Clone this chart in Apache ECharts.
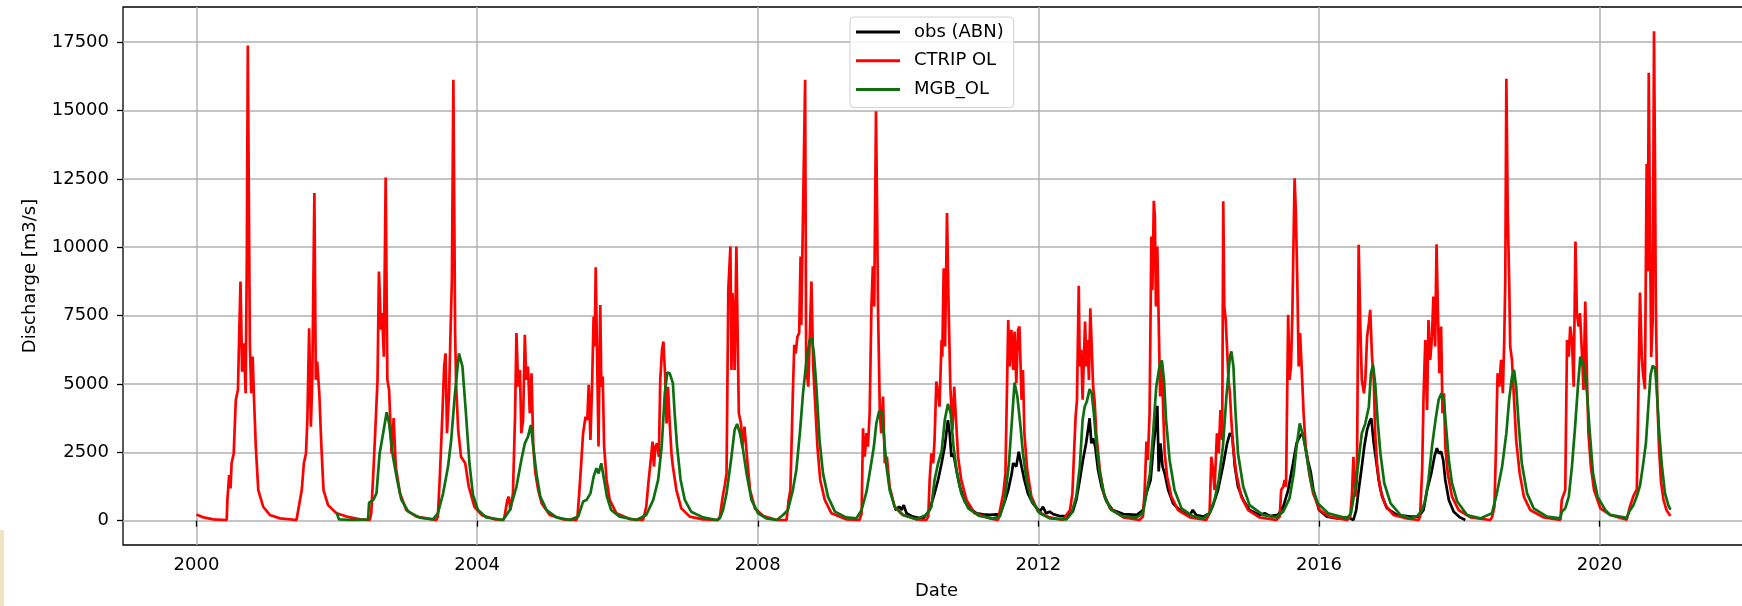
<!DOCTYPE html>
<html>
<head>
<meta charset="utf-8">
<title>Discharge</title>
<script src="https://cdn.jsdelivr.net/npm/echarts@6/dist/echarts.min.js"></script>
<style>
  html, body { margin: 0; padding: 0; background: #fff; }
  #chart { width: 1742px; height: 606px; }
</style>
</head>
<body>
<div id="chart"></div>
<script>
// tick values of both axes
const xTicks = [2000, 2004, 2008, 2012, 2016, 2020];
const yTicks = [0, 2500, 5000, 7500, 10000, 12500, 15000, 17500];

// [decimal year, discharge m3/s]
const obsABN = [
  [2009.95,390],[2010.02,510],[2010.05,390],[2010.08,570],[2010.12,270],[2010.21,150],[2010.355,70],
  [2010.45,390],[2010.52,1000],[2010.57,1490],[2010.62,2100],[2010.665,2710],[2010.71,3680],[2010.735,3200],
  [2010.76,2340],[2010.79,2460],[2010.83,1860],[2010.88,1240],[2010.95,700],[2011.02,450],[2011.12,270],
  [2011.21,230],[2011.31,210],[2011.40,230],
  [2011.45,210],[2011.52,700],[2011.57,1120],[2011.62,1730],[2011.64,2100],[2011.685,1980],[2011.72,2525],
  [2011.76,1980],[2011.80,1490],[2011.85,1000],[2011.92,630],[2012.02,330],[2012.065,510],[2012.11,270],
  [2012.16,330],[2012.21,240],[2012.30,170],[2012.40,170],
  [2012.49,330],[2012.54,760],[2012.59,1490],[2012.635,2220],[2012.68,2830],[2012.71,3380],[2012.73,3745],
  [2012.755,2830],[2012.78,3010],[2012.81,2710],[2012.85,1860],[2012.90,1240],[2012.97,700],[2013.06,390],
  [2013.21,240],[2013.40,210],
  [2013.49,390],[2013.54,1000],[2013.60,1490],[2013.64,2710],[2013.67,3440],[2013.695,4200],[2013.715,1800],
  [2013.74,2830],[2013.77,1980],[2013.80,1730],[2013.85,1120],[2013.92,630],[2014.04,330],[2014.16,210],
  [2014.20,390],[2014.25,210],[2014.35,150],
  [2014.44,270],[2014.49,570],[2014.56,1120],[2014.63,1980],[2014.69,2830],[2014.73,3200],[2014.765,3075],
  [2014.80,1980],[2014.845,1240],[2014.92,760],[2015.01,390],[2015.15,210],[2015.225,270],[2015.30,170],
  [2015.415,210],
  [2015.49,510],[2015.56,1120],[2015.63,2100],[2015.68,2830],[2015.725,3075],[2015.77,3220],[2015.795,2830],
  [2015.84,2220],[2015.88,1800],[2015.92,1120],[2016.00,390],[2016.11,150],[2016.26,85],[2016.42,120],
  [2016.49,25],
  [2016.53,390],[2016.565,1120],[2016.61,1980],[2016.645,2710],[2016.685,3320],[2016.72,3620],[2016.745,3745],
  [2016.78,2830],[2016.82,2100],[2016.85,1490],[2016.90,880],[2016.97,450],[2017.11,210],[2017.30,150],
  [2017.42,150],
  [2017.49,390],[2017.54,1120],[2017.60,1730],[2017.645,2340],[2017.68,2650],[2017.71,2460],[2017.74,2525],
  [2017.77,2220],[2017.80,1490],[2017.85,760],[2017.92,330],[2018.01,120],[2018.085,25]
];

const ctripOL = [
  [2000.00,230],[2000.10,120],[2000.24,50],[2000.43,25],
  [2000.44,760],[2000.465,1670],[2000.485,1180],[2000.50,2100],[2000.53,2460],[2000.56,4420],[2000.59,4780],
  [2000.61,6980],[2000.627,8750],[2000.65,5450],[2000.675,6490],[2000.70,4660],[2000.717,9600],[2000.731,17380],
  [2000.76,6490],[2000.78,4660],[2000.80,6000],[2000.82,4420],[2000.845,2710],[2000.88,1120],[2000.95,510],
  [2001.045,210],[2001.19,85],[2001.425,25],
  [2001.45,25],[2001.50,1120],[2001.53,2100],[2001.56,2460],[2001.58,3680],[2001.605,7040],[2001.63,3440],
  [2001.65,5150],[2001.68,11980],[2001.70,5150],[2001.72,5820],[2001.75,4660],[2001.78,2710],[2001.81,1120],
  [2001.875,570],[2001.995,270],[2002.14,150],[2002.33,50],[2002.47,25],
  [2002.49,270],[2002.52,1730],[2002.555,3680],[2002.58,5150],[2002.60,9110],[2002.63,6980],[2002.645,7590],
  [2002.67,6000],[2002.696,12550],[2002.72,5150],[2002.745,4780],[2002.78,2460],[2002.81,3750],[2002.84,1980],
  [2002.90,1000],[2002.99,390],[2003.135,150],[2003.42,25],
  [2003.44,150],[2003.47,1730],[2003.505,3930],[2003.53,5640],[2003.55,6120],[2003.57,3200],[2003.60,4660],
  [2003.62,6860],[2003.64,8810],[2003.661,16125],[2003.686,6860],[2003.70,5000],[2003.73,3300],[2003.77,2340],
  [2003.83,2100],[2003.88,1250],[2003.96,510],[2004.07,200],[2004.25,50],[2004.37,25],
  [2004.39,150],[2004.43,760],[2004.45,880],[2004.475,390],[2004.51,1000],[2004.54,3800],[2004.56,6860],
  [2004.585,4900],[2004.61,5510],[2004.63,3200],[2004.655,3680],[2004.68,6800],[2004.70,5150],[2004.725,5640],
  [2004.75,3930],[2004.775,5390],[2004.80,2710],[2004.83,1730],[2004.87,1120],[2004.92,630],[2005.035,210],
  [2005.225,50],[2005.415,25],
  [2005.43,150],[2005.455,1000],[2005.48,1980],[2005.51,3200],[2005.545,3800],[2005.57,3680],[2005.59,4970],
  [2005.615,2950],[2005.64,5150],[2005.66,7470],[2005.675,6370],[2005.69,9270],[2005.715,5150],[2005.73,2710],
  [2005.755,7890],[2005.77,4900],[2005.79,5270],[2005.81,2710],[2005.845,1490],[2005.89,760],[2005.985,270],
  [2006.175,60],[2006.365,25],
  [2006.41,510],[2006.445,1490],[2006.475,2220],[2006.50,2890],[2006.52,1980],[2006.54,2710],[2006.565,2830],
  [2006.59,2340],[2006.61,5150],[2006.635,6250],[2006.655,6550],[2006.68,5270],[2006.70,3560],[2006.72,4900],
  [2006.745,3560],[2006.77,2460],[2006.79,1980],[2006.84,1120],[2006.91,450],[2007.03,150],[2007.22,50],
  [2007.43,25],
  [2007.46,150],[2007.50,880],[2007.53,1300],[2007.555,1730],[2007.58,8440],[2007.61,10030],[2007.625,5510],
  [2007.64,8320],[2007.655,7340],[2007.67,5510],[2007.695,10030],[2007.71,7340],[2007.73,3930],[2007.76,3560],
  [2007.78,2710],[2007.81,3440],[2007.85,2220],[2007.89,1120],[2007.96,450],[2008.08,170],[2008.27,25],
  [2008.41,25],
  [2008.44,760],[2008.465,1120],[2008.50,4660],[2008.52,6430],[2008.54,6120],[2008.565,6730],[2008.59,6860],
  [2008.61,9660],[2008.62,7160],[2008.645,11300],[2008.675,16125],[2008.69,5640],[2008.72,4900],[2008.74,6610],
  [2008.765,8750],[2008.79,5640],[2008.81,4660],[2008.85,2710],[2008.89,1490],[2008.955,760],[2009.05,270],
  [2009.26,50],[2009.45,25],
  [2009.48,270],[2009.50,3380],[2009.525,2340],[2009.55,3200],[2009.57,2710],[2009.595,3930],[2009.62,7830],
  [2009.64,9300],[2009.66,7830],[2009.685,14970],[2009.70,11490],[2009.715,7590],[2009.74,3930],[2009.76,3200],
  [2009.785,4540],[2009.81,2100],[2009.84,2340],[2009.88,1240],[2009.95,510],[2010.07,210],[2010.26,50],
  [2010.40,25],
  [2010.43,150],[2010.45,1490],[2010.475,2460],[2010.50,2100],[2010.52,2950],[2010.545,5090],[2010.57,4660],
  [2010.59,4170],[2010.62,6610],[2010.63,6000],[2010.65,9230],[2010.67,6370],[2010.697,11250],[2010.72,7830],
  [2010.745,4900],[2010.775,3320],[2010.80,4900],[2010.82,3930],[2010.855,2340],[2010.90,1490],[2010.975,760],
  [2011.09,270],[2011.31,85],[2011.425,25],
  [2011.45,85],[2011.50,1000],[2011.53,1730],[2011.57,7340],[2011.59,5640],[2011.615,6980],[2011.64,5510],
  [2011.66,6920],[2011.685,5030],[2011.71,6980],[2011.73,7100],[2011.76,4420],[2011.78,5510],[2011.80,3200],
  [2011.84,1860],[2011.90,880],[2011.995,330],[2012.16,120],[2012.35,25],
  [2012.45,390],[2012.485,1000],[2012.50,1980],[2012.53,3800],[2012.55,4420],[2012.575,8590],[2012.59,5640],
  [2012.61,6250],[2012.63,4420],[2012.645,5640],[2012.665,7280],[2012.685,5640],[2012.70,6610],[2012.72,5150],
  [2012.74,7770],[2012.76,6370],[2012.78,4900],[2012.80,4420],[2012.825,3200],[2012.875,1860],[2012.93,1000],
  [2013.02,450],[2013.21,120],[2013.44,25],
  [2013.49,150],[2013.515,1120],[2013.54,2890],[2013.56,2220],[2013.585,3930],[2013.61,10390],[2013.625,8440],
  [2013.645,11700],[2013.66,11130],[2013.675,7830],[2013.695,10030],[2013.715,7220],[2013.735,4540],
  [2013.76,5760],[2013.78,3930],[2013.80,2460],[2013.835,1610],[2013.895,880],[2013.99,390],[2014.16,120],
  [2014.39,25],
  [2014.44,270],[2014.465,2340],[2014.49,1860],[2014.51,1120],[2014.545,3200],[2014.57,2460],[2014.595,4050],
  [2014.62,2950],[2014.635,11680],[2014.65,7830],[2014.67,7340],[2014.69,7340],[2014.71,5150],[2014.73,4660],
  [2014.75,3680],[2014.775,2710],[2014.82,1730],[2014.89,880],[2014.99,390],[2015.15,120],[2015.39,25],
  [2015.44,150],[2015.46,1120],[2015.49,1240],[2015.51,1490],[2015.53,1240],[2015.56,7530],[2015.58,5150],
  [2015.60,5640],[2015.62,7590],[2015.64,10760],[2015.652,12525],[2015.67,11250],[2015.69,8810],[2015.71,5640],
  [2015.73,6860],[2015.76,5150],[2015.78,3930],[2015.81,2710],[2015.86,1730],[2015.915,1000],[2016.01,390],
  [2016.15,150],[2016.40,25],
  [2016.445,150],[2016.47,1000],[2016.49,2340],[2016.52,880],[2016.54,1490],[2016.565,10090],[2016.59,6980],
  [2016.61,5150],[2016.64,4660],[2016.66,5150],[2016.685,6730],[2016.71,7220],[2016.73,7710],[2016.755,6000],
  [2016.78,5150],[2016.80,3200],[2016.83,1980],[2016.875,1120],[2016.945,570],[2017.06,210],[2017.25,85],
  [2017.42,25],
  [2017.44,150],[2017.47,1860],[2017.49,4540],[2017.515,6610],[2017.54,4050],[2017.56,7340],[2017.585,5880],
  [2017.61,6730],[2017.63,8200],[2017.655,6370],[2017.675,10110],[2017.695,7590],[2017.715,5390],[2017.74,7100],
  [2017.76,3930],[2017.78,4660],[2017.80,2710],[2017.835,1730],[2017.895,880],[2017.99,390],[2018.16,120],
  [2018.44,25],
  [2018.465,120],[2018.50,510],[2018.52,2460],[2018.545,5390],[2018.57,4900],[2018.595,5880],[2018.62,4660],
  [2018.64,6610],[2018.655,8810],[2018.67,16160],[2018.69,11250],[2018.71,8810],[2018.725,6370],[2018.75,5880],
  [2018.775,4660],[2018.81,2950],[2018.86,1730],[2018.92,880],[2019.01,390],[2019.20,120],[2019.44,25],
  [2019.46,760],[2019.51,1120],[2019.535,6610],[2019.56,6000],[2019.58,7100],[2019.605,6610],[2019.63,4900],
  [2019.655,10210],[2019.675,7590],[2019.70,7100],[2019.72,7590],[2019.745,6250],[2019.77,4780],[2019.795,8010],
  [2019.82,5150],[2019.84,3200],[2019.875,1980],[2019.92,1120],[2020.01,450],[2020.15,210],[2020.385,40],
  [2020.43,500],[2020.48,890],[2020.53,1150],[2020.56,5990],[2020.575,8340],[2020.60,5990],[2020.62,5330],
  [2020.645,4810],[2020.67,13040],[2020.685,9120],[2020.70,16380],[2020.72,9910],[2020.735,5990],[2020.755,7290],
  [2020.775,17900],[2020.79,12520],[2020.80,7950],[2020.82,4680],[2020.845,2720],[2020.875,1410],[2020.91,760],
  [2020.955,370],[2021.01,170]
];

const mgbOL = [
  [2001.997,300],[2002.03,50],[2002.23,25],[2002.445,50],[2002.46,660],[2002.52,760],[2002.565,1000],
  [2002.61,2460],[2002.66,3200],[2002.71,3965],[2002.745,3560],[2002.80,2340],[2002.86,1490],[2002.92,760],
  [2003.02,330],[2003.18,110],[2003.37,50],
  [2003.44,270],[2003.515,1000],[2003.585,1980],[2003.63,2950],[2003.68,4540],[2003.74,6120],[2003.79,5640],
  [2003.84,3930],[2003.89,2100],[2003.94,950],[2004.01,400],[2004.13,120],[2004.37,25],
  [2004.39,85],[2004.465,390],[2004.56,1240],[2004.63,2220],[2004.68,2830],[2004.725,3075],[2004.765,3500],
  [2004.80,2710],[2004.845,1730],[2004.90,880],[2004.99,390],[2005.13,120],[2005.32,25],
  [2005.44,150],[2005.51,700],[2005.56,760],[2005.615,1000],[2005.66,1610],[2005.70,1920],[2005.73,1730],
  [2005.77,2100],[2005.81,1490],[2005.85,880],[2005.91,390],[2006.03,150],[2006.27,25],
  [2006.41,210],[2006.51,760],[2006.58,1490],[2006.63,2710],[2006.675,4660],[2006.71,5420],[2006.745,5390],
  [2006.79,5030],[2006.815,3930],[2006.85,2710],[2006.90,1490],[2006.96,760],[2007.05,330],[2007.22,120],
  [2007.41,25],
  [2007.46,85],[2007.505,390],[2007.555,1000],[2007.625,2340],[2007.67,3320],[2007.705,3540],[2007.745,3200],
  [2007.79,2590],[2007.84,1730],[2007.91,760],[2008.005,270],[2008.12,85],[2008.27,25],
  [2008.36,210],[2008.43,390],[2008.50,1120],[2008.55,1860],[2008.60,3200],[2008.645,4660],[2008.69,5760],
  [2008.74,6610],[2008.77,6670],[2008.80,6120],[2008.835,4900],[2008.88,2950],[2008.93,1730],[2009.00,880],
  [2009.10,330],[2009.26,120],[2009.405,85],
  [2009.48,390],[2009.55,1060],[2009.61,1980],[2009.655,2710],[2009.69,3560],[2009.73,4010],[2009.77,3930],
  [2009.795,3200],[2009.835,1980],[2009.88,1120],[2009.95,510],[2010.07,210],[2010.26,50],
  [2010.40,210],[2010.475,510],[2010.52,1490],[2010.57,2100],[2010.62,2525],[2010.665,3680],[2010.71,4270],
  [2010.75,3930],[2010.79,2710],[2010.84,1730],[2010.90,1000],[2011.00,450],[2011.16,170],[2011.35,85],
  [2011.45,150],[2011.52,760],[2011.58,2100],[2011.63,3930],[2011.66,5050],[2011.70,4540],[2011.745,3440],
  [2011.78,2460],[2011.83,1490],[2011.90,760],[2012.02,270],[2012.16,85],[2012.40,50],
  [2012.47,270],[2012.54,880],[2012.59,1980],[2012.63,3680],[2012.66,4170],[2012.69,4355],[2012.73,4810],
  [2012.76,4660],[2012.79,3930],[2012.825,2830],[2012.875,1730],[2012.945,880],[2013.04,390],[2013.21,150],
  [2013.40,120],
  [2013.49,270],[2013.54,1000],[2013.59,1730],[2013.635,3200],[2013.68,4900],[2013.73,5700],[2013.76,5860],
  [2013.79,5150],[2013.82,3680],[2013.87,2220],[2013.94,1120],[2014.04,450],[2014.20,170],[2014.35,85],
  [2014.44,270],[2014.51,760],[2014.57,1490],[2014.63,2710],[2014.68,4540],[2014.73,6000],[2014.75,6190],
  [2014.78,5640],[2014.81,3930],[2014.845,2460],[2014.92,1240],[2015.01,570],[2015.20,210],[2015.39,120],
  [2015.49,330],[2015.58,820],[2015.64,1730],[2015.68,2710],[2015.725,3560],[2015.75,3320],[2015.795,2830],
  [2015.84,2100],[2015.90,1240],[2015.985,630],[2016.13,270],[2016.40,85],
  [2016.455,270],[2016.52,1240],[2016.565,2220],[2016.61,3200],[2016.66,3560],[2016.71,4170],[2016.74,5390],
  [2016.77,5700],[2016.80,5030],[2016.835,3680],[2016.875,2460],[2016.93,1370],[2017.02,630],[2017.16,210],
  [2017.30,85],[2017.40,170],
  [2017.47,390],[2017.515,760],[2017.56,1490],[2017.61,2710],[2017.66,3680],[2017.705,4420],[2017.745,4660],
  [2017.78,4420],[2017.81,3440],[2017.85,2220],[2017.895,1370],[2017.97,700],[2018.11,210],[2018.30,85],
  [2018.465,270],[2018.535,1000],[2018.61,1980],[2018.67,3200],[2018.71,4420],[2018.75,5270],[2018.78,5510],
  [2018.81,4900],[2018.845,3560],[2018.89,2100],[2018.965,1000],[2019.06,450],[2019.25,150],[2019.44,85],
  [2019.46,330],[2019.51,450],[2019.56,880],[2019.605,1980],[2019.65,3440],[2019.69,4900],[2019.725,6000],
  [2019.75,5820],[2019.78,5640],[2019.82,4660],[2019.86,3200],[2019.905,1730],[2019.97,880],[2020.08,390],
  [2020.15,210],[2020.385,105],
  [2020.43,370],[2020.48,560],[2020.53,890],[2020.575,1280],[2020.62,2070],[2020.66,2850],[2020.69,4030],
  [2020.725,5330],[2020.755,5660],[2020.79,5590],[2020.81,4940],[2020.845,3370],[2020.885,2070],[2020.93,1020],
  [2020.98,560],[2021.01,400]
];

const seriesNames = ['obs (ABN)', 'CTRIP OL', 'MGB_OL'];
const seriesColors = ['#000000', '#ff0000', '#0f6e0f'];

let myChart = echarts.init(document.getElementById('chart'), null, { renderer: 'canvas' });

const font = 'DejaVu Sans';

function lineSeries(i, data) {
  return {
    name: seriesNames[i],
    type: 'line',
    data: data,
    showSymbol: false,
    symbol: 'none',
    z: 2 + i,
    lineStyle: { color: seriesColors[i], width: 2.7 },
    itemStyle: { color: seriesColors[i] }
  };
}

let option = {
  animation: false,
  backgroundColor: '#ffffff',
  textStyle: { fontFamily: font },
  grid: {
    // right edge of the frame sits just outside the picture
    left: 123, top: 7, right: -8, bottom: 61,
    outerBoundsMode: 'none',
    show: true, borderColor: '#000', borderWidth: 1.3, backgroundColor: 'transparent'
  },
  legend: {
    data: seriesNames,
    orient: 'vertical',
    left: 850, top: 17,
    padding: [6, 10, 9, 6],
    itemWidth: 44, itemHeight: 3, itemGap: 10.8,
    icon: 'rect',
    borderColor: '#d0d0d0', borderWidth: 1, borderRadius: 4,
    backgroundColor: 'rgba(255,255,255,0.85)',
    // en space widens the gap between handle and label
    formatter: name => '\u2002' + name,
    textStyle: { fontFamily: font, fontSize: 18, color: '#000', lineHeight: 18 }
  },
  xAxis: {
    type: 'value',
    min: 1998.952, max: 2022.143,
    name: 'Date', nameLocation: 'middle', nameGap: 37,
    nameTextStyle: { fontFamily: font, fontSize: 18, color: '#000' },
    axisLine: { show: false },
    axisTick: { show: true, customValues: xTicks, length: 6, lineStyle: { color: '#000', width: 1.3 } },
    axisLabel: { customValues: xTicks, fontFamily: font, fontSize: 18, color: '#000', margin: 11, formatter: v => String(v) },
    splitLine: { show: true, lineStyle: { color: '#b0b0b0', width: 1.5 } }
  },
  yAxis: {
    type: 'value',
    min: -889, max: 18785,
    name: 'Discharge [m3/s]', nameLocation: 'middle', nameGap: 84, nameRotate: 90,
    nameTextStyle: { fontFamily: font, fontSize: 18, color: '#000' },
    axisLine: { show: false },
    axisTick: { show: true, customValues: yTicks, length: 6, lineStyle: { color: '#000', width: 1.3 } },
    axisLabel: { customValues: yTicks, fontFamily: font, fontSize: 18, color: '#000', margin: 14, formatter: v => String(v) },
    splitLine: { show: true, lineStyle: { color: '#b0b0b0', width: 1.5 } }
  },
  graphic: [
    // beige strip on the lower left edge of the original image
    { type: 'rect', left: 0, top: 530, shape: { width: 4, height: 76 }, style: { fill: '#efe3c2' } }
  ],
  series: [
    lineSeries(0, obsABN),
    lineSeries(1, ctripOL),
    lineSeries(2, mgbOL)
  ]
};

myChart.setOption(option);
</script>
</body>
</html>
